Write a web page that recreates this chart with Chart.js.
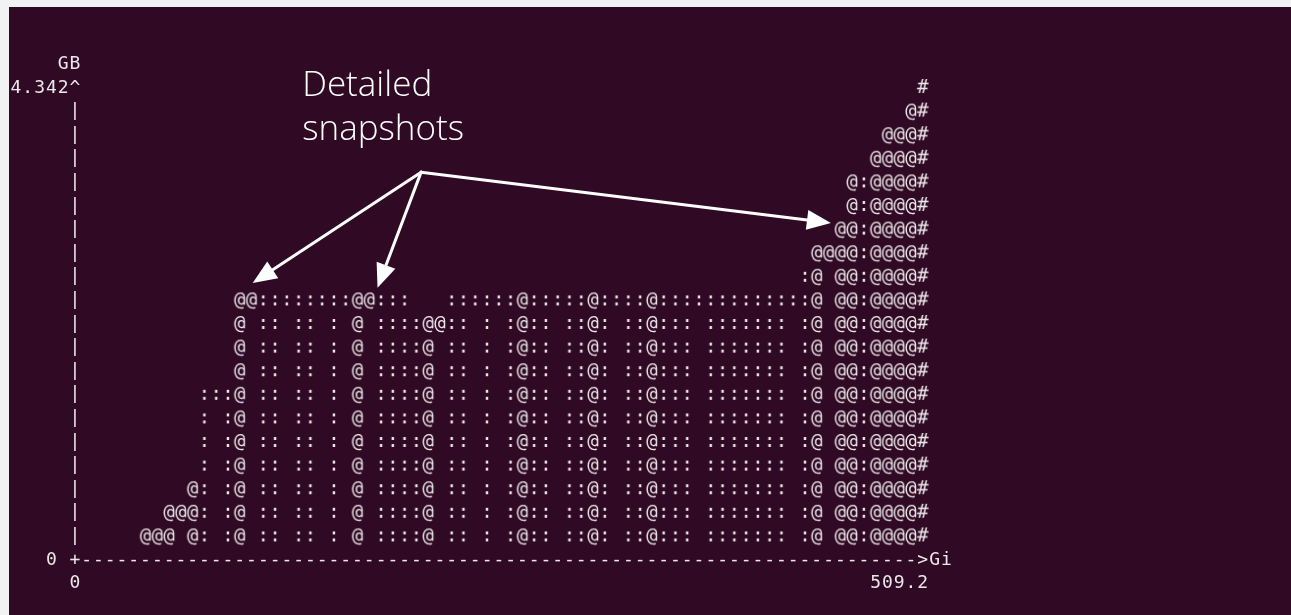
<!DOCTYPE html>
<html>
<head>
<meta charset="utf-8">
<script src="https://cdn.jsdelivr.net/npm/chart.js@4.4.0/dist/chart.umd.min.js"></script>
<style>
  html, body { margin: 0; padding: 0; width: 1291px; height: 615px; overflow: hidden; background: #f2f2f2; }
  #term { position: absolute; left: 9px; top: 7px; width: 1282px; height: 608px; background: #300a24; }
</style>
</head>
<body>
<div id="term"><canvas id="massif" width="1282" height="608"></canvas></div>
<script>
// ==============================
// massif / ms_print heap graph, redrawn as a scatter of glyphs
// one cell per character, columns 1..72, rows 1..20
// ==============================

const FIRST_COL = 6;   // graph column of the first entry below
const colChars = [
  "@","@","@","@","@",":",":",":","@","@",            // 6-15
  ":",":",":",":",":",":",":",":","@","@",            // 16-25
  ":",":",":",":","@","@",":",":",":",":",            // 26-35
  ":",":","@",":",":",":",":",":","@",":",            // 36-45
  ":",":",":","@",":",":",":",":",":",":",            // 46-55
  ":",":",":",":",":",":",":","@","@","@",            // 56-65
  "@",":","@","@","@","@","#"                         // 66-72
];
const colHeights = [
  1, 1, 2, 2, 3, 7, 7, 7, 11, 11,
  11, 11, 11, 11, 11, 11, 11, 11, 11, 11,
  11, 11, 11, 10, 10, 10, 11, 11, 11, 11,
  11, 11, 11, 11, 11, 11, 11, 11, 11, 11,
  11, 11, 11, 11, 11, 11, 11, 11, 11, 11,
  11, 11, 11, 11, 11, 11, 12, 13, 13, 14,
  16, 16, 17, 18, 18, 19, 20
];
// 1 = bar goes down to the axis, 0 = only the top cell (gap filler)
const colFilled = [
  1, 1, 1, 0, 1, 1, 0, 1, 1, 0,
  1, 1, 0, 1, 1, 0, 1, 0, 1, 0,
  1, 1, 1, 1, 1, 0, 1, 1, 0, 1,
  0, 1, 1, 1, 1, 0, 1, 1, 1, 1,
  0, 1, 1, 1, 1, 1, 1, 0, 1, 1,
  1, 1, 1, 1, 1, 0, 1, 1, 0, 1,
  1, 1, 1, 1, 1, 1, 1
];

const GRAPH_W = 72;
const GRAPH_H = 20;
const yUnit = "GB";
const xUnit = "Gi";
const yTickLabels = ["0", "4.342"];   // bottom, top
const xTickLabels = ["0", "509.2"];   // left, right

// annotation, in graph units (column, row)
const noteLines  = ["Detailed", "snapshots"];
const noteAnchor = [19.3, 19.58];
const noteStep   = 1.87;
const arrowFrom  = [29.4, 16.35];
const arrowTips  = [[15.1, 11.65], [25.7, 11.45], [64.2, 14.2]];

// ---------- look ----------
const CELL_W = 11.78, CELL_H = 23.6;
const COL0_X = 65.5, ROW0_Y = 551;      // canvas px of column 0 / row 0
const FONT      = '19px "DejaVu Sans Mono", monospace';
const AXIS_FONT = '18px "DejaVu Sans Mono", monospace';
const INK  = "#ebe7e9";

function glyph(ch) {
  const c = document.createElement("canvas");
  c.width = 14; c.height = 26;
  const g = c.getContext("2d");
  g.font = FONT;
  g.fillStyle = INK;
  g.textAlign = "center";
  g.textBaseline = "alphabetic";
  g.fillText(ch, 7, 19.5);
  return c;
}

// ---------- build cells ----------
const cells = { "@": [], ":": [], "#": [] };
colChars.forEach((ch, i) => {
  const x = FIRST_COL + i;
  const top = colHeights[i];
  const bottom = colFilled[i] ? 1 : top;
  for (let y = bottom; y <= top; y++) cells[ch].push({ x, y });
});

const datasets = Object.keys(cells).map(ch => ({
  label: ch,
  data: cells[ch],
  pointStyle: glyph(ch),
  pointRadius: 6,
  showLine: false,
  clip: false,
}));

// ---------- ascii axes ----------
function put(ctx, chart, str, col, row) {
  const xs = chart.scales.x, ys = chart.scales.y;
  for (let i = 0; i < str.length; i++) {
    ctx.fillText(str[i], xs.getPixelForValue(col + i), ys.getPixelForValue(row) + 6.5);
  }
}

const asciiAxes = {
  id: "asciiAxes",
  afterDatasetsDraw(chart) {
    const ctx = chart.ctx;
    ctx.save();
    ctx.font = AXIS_FONT;
    ctx.fillStyle = INK;
    ctx.textAlign = "center";
    ctx.textBaseline = "alphabetic";

    for (let r = 1; r < GRAPH_H; r++) put(ctx, chart, "|", 0, r);
    put(ctx, chart, "^", 0, GRAPH_H);
    put(ctx, chart, "+", 0, 0);
    for (let c = 1; c < GRAPH_W; c++) put(ctx, chart, "-", c, 0);
    put(ctx, chart, ">" + xUnit, GRAPH_W, 0);

    put(ctx, chart, yUnit, 1 - yUnit.length, GRAPH_H + 1);
    put(ctx, chart, yTickLabels[1], -yTickLabels[1].length, GRAPH_H);
    put(ctx, chart, yTickLabels[0], -1 - yTickLabels[0].length, 0);

    put(ctx, chart, xTickLabels[0], 0, -1);
    put(ctx, chart, xTickLabels[1], GRAPH_W + 1 - xTickLabels[1].length, -1);
    ctx.restore();
  }
};

// ---------- callout ----------
const snapshotNote = {
  id: "snapshotNote",
  afterDraw(chart) {
    const ctx = chart.ctx;
    const xs = chart.scales.x, ys = chart.scales.y;
    const P = (p) => [xs.getPixelForValue(p[0]), ys.getPixelForValue(p[1])];

    ctx.save();
    ctx.fillStyle = "#ffffff";
    ctx.strokeStyle = "#ffffff";
    ctx.font = '300 35px "Open Sans", Lato, sans-serif';
    ctx.textAlign = "left";
    ctx.textBaseline = "alphabetic";
    noteLines.forEach((t, i) => {
      const [x, y] = P([noteAnchor[0], noteAnchor[1] - i * noteStep]);
      ctx.fillText(t, x, y);
    });

    const [ox, oy] = P(arrowFrom);
    const headLen = 24, headHalf = 10;
    ctx.lineWidth = 3;
    ctx.lineCap = "round";
    arrowTips.forEach(tip => {
      const [tx, ty] = P(tip);
      const a = Math.atan2(ty - oy, tx - ox);
      const bx = tx - Math.cos(a) * headLen, by = ty - Math.sin(a) * headLen;
      ctx.beginPath();
      ctx.moveTo(ox, oy);
      ctx.lineTo(bx, by);
      ctx.stroke();
      ctx.beginPath();
      ctx.moveTo(tx, ty);
      ctx.lineTo(bx + Math.sin(a) * headHalf, by - Math.cos(a) * headHalf);
      ctx.lineTo(bx - Math.sin(a) * headHalf, by + Math.cos(a) * headHalf);
      ctx.closePath();
      ctx.fill();
    });
    ctx.restore();
  }
};

// ---------- chart ----------
const canvas = document.getElementById("massif");
const X_MIN = -5, X_MAX = 102, Y_MIN = -2, Y_MAX = 22;

new Chart(canvas, {
  type: "scatter",
  data: { datasets },
  options: {
    responsive: false,
    animation: false,
    events: [],
    layout: {
      padding: {
        left: COL0_X + X_MIN * CELL_W,
        right: canvas.width - (COL0_X + X_MAX * CELL_W),
        top: ROW0_Y - Y_MAX * CELL_H,
        bottom: canvas.height - (ROW0_Y - Y_MIN * CELL_H),
      }
    },
    plugins: { legend: { display: false }, tooltip: { enabled: false } },
    scales: {
      x: { type: "linear", min: X_MIN, max: X_MAX, display: false },
      y: { type: "linear", min: Y_MIN, max: Y_MAX, display: false },
    }
  },
  plugins: [asciiAxes, snapshotNote]
});
</script>
</body>
</html>
